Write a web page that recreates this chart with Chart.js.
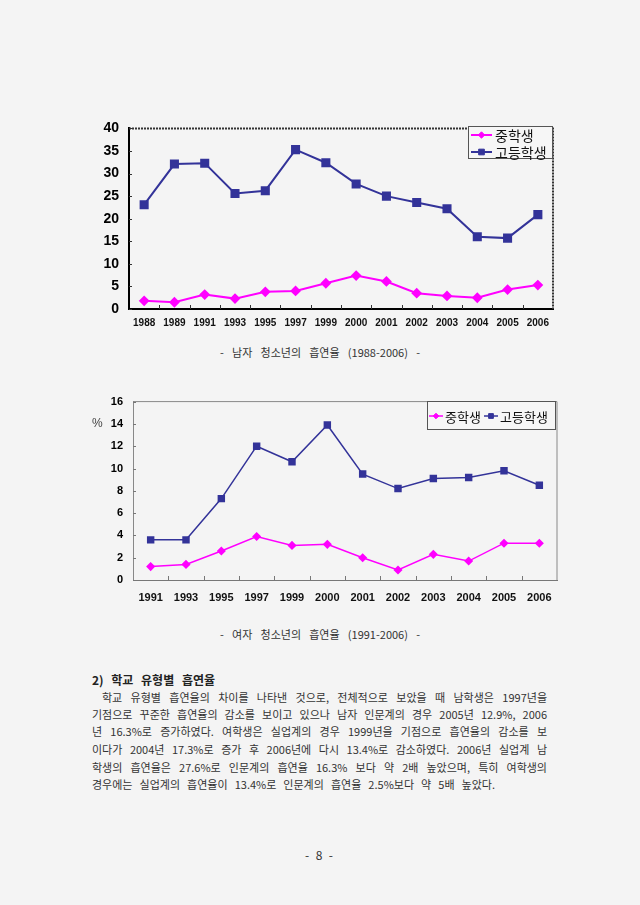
<!DOCTYPE html>
<html>
<head>
<meta charset="utf-8">
<script src="https://cdn.jsdelivr.net/npm/chart.js@4.4.1/dist/chart.umd.min.js"></script>
<style>
  html, body { margin: 0; padding: 0; }
  body { width: 640px; height: 905px; background: #f4f4f4; position: relative; overflow: hidden;
         font-family: "Noto Sans CJK KR", "Noto Sans", sans-serif; color: #333; }
  canvas { position: absolute; }
  .t { position: absolute; white-space: nowrap; font-size: 11px; line-height: 14px; }
  .j { text-align: justify; text-align-last: justify; }
</style>
</head>
<body>
<canvas id="c1" width="470" height="230" style="left:90px;top:110px;"></canvas>
<canvas id="c2" width="490" height="230" style="left:80px;top:385px;"></canvas>

<div class="t j" style="left:220px;top:345px;width:200px;">- 남자 청소년의 흡연율 (1988-2006) -</div>
<div class="t" style="left:92px;top:416px;font-family:'Liberation Sans',Arial,sans-serif;font-size:12px;color:#444;">%</div>
<div class="t j" style="left:220px;top:627px;width:200px;">- 여자 청소년의 흡연율 (1991-2006) -</div>

<div class="t j" style="left:92px;top:673px;width:123px;font-weight:bold;color:#222;font-size:12px;">2) 학교 유형별 흡연율</div>
<div class="t j" style="left:102px;top:690px;width:445px;">학교 유형별 흡연율의 차이를 나타낸 것으로, 전체적으로 보았을 때 남학생은 1997년을</div>
<div class="t j" style="left:92px;top:707px;width:455px;">기점으로 꾸준한 흡연율의 감소를 보이고 있으나 남자 인문계의 경우 2005년 12.9%, 2006</div>
<div class="t j" style="left:92px;top:724px;width:455px;">년 16.3%로 증가하였다. 여학생은 실업계의 경우 1999년을 기점으로 흡연율의 감소를 보</div>
<div class="t j" style="left:92px;top:742px;width:455px;">이다가 2004년 17.3%로 증가 후 2006년에 다시 13.4%로 감소하였다. 2006년 실업계 남</div>
<div class="t j" style="left:92px;top:760px;width:455px;">학생의 흡연율은 27.6%로 인문계의 흡연율 16.3% 보다 약 2배 높았으며, 특히 여학생의</div>
<div class="t j" style="left:92px;top:777px;width:403px;">경우에는 실업계의 흡연율이 13.4%로 인문계의 흡연율 2.5%보다 약 5배 높았다.</div>

<div class="t j" style="left:305px;top:848px;width:28px;font-size:12px;">- 8 -</div>

<script>
// ---- data ----
const seriesNames = ['중학생', '고등학생'];
const years1 = ['1988','1989','1991','1993','1995','1997','1999','2000','2001','2002','2003','2004','2005','2006'];
const middle1 = [1.8, 1.5, 3.2, 2.3, 3.8, 4.0, 5.7, 7.4, 6.1, 3.5, 2.9, 2.5, 4.3, 5.3];
const high1   = [23.1, 32.1, 32.3, 25.6, 26.2, 35.3, 32.4, 27.7, 25.0, 23.6, 22.2, 16.0, 15.7, 20.9];
const years2 = ['1991','1993','1995','1997','1999','2000','2001','2002','2003','2004','2005','2006'];
const middle2 = [1.2, 1.4, 2.6, 3.9, 3.1, 3.2, 2.0, 0.9, 2.3, 1.7, 3.3, 3.3];
const high2   = [3.6, 3.6, 7.3, 12.0, 10.6, 13.9, 9.5, 8.2, 9.1, 9.2, 9.8, 8.5];
const yTicks1 = { min: 0, max: 40, step: 5 };
const yTicks2 = { min: 0, max: 16, step: 2 };

const MAG = '#ff00ff';
const NAVY = '#333399';
const NUMFONT = "'Liberation Sans', Arial, sans-serif";
const KRFONT = "'Noto Sans CJK KR', sans-serif";

// custom plugin: borders, inward ticks, legend box
const framePlugin = {
  id: 'frame',
  beforeDatasetsDraw(chart, args, o) {
    const ctx = chart.ctx, a = chart.chartArea;
    const xs = chart.scales.x, ys = chart.scales.y;
    ctx.save();
    ctx.strokeStyle = o.frameColor; ctx.lineWidth = o.frameWidth;
    ctx.setLineDash(o.frameDash);
    ctx.beginPath();
    ctx.moveTo(a.left, a.top); ctx.lineTo(a.right, a.top); ctx.lineTo(a.right, a.bottom);
    ctx.stroke();
    ctx.setLineDash([]);
    ctx.strokeStyle = o.tickColor; ctx.lineWidth = 1;
    ctx.beginPath();
    ys.ticks.forEach(t => {
      const y = Math.round(ys.getPixelForValue(t.value)) + 0.5;
      ctx.moveTo(a.left, y); ctx.lineTo(a.left + o.tickLen, y);
    });
    const n = chart.data.labels.length;
    for (let i = 0; i < n - 1; i++) {
      const x = Math.round((xs.getPixelForValue(i) + xs.getPixelForValue(i + 1)) / 2) + 0.5;
      ctx.moveTo(x, a.bottom); ctx.lineTo(x, a.bottom - o.tickLen - 1);
    }
    ctx.stroke();
    ctx.restore();
  },
  afterDraw(chart, args, o) {
    const ctx = chart.ctx, L = o.legend;
    ctx.save();
    ctx.fillStyle = o.legendBg;
    ctx.fillRect(L.x, L.y, L.w, L.h);
    ctx.strokeStyle = '#555'; ctx.lineWidth = 1;
    ctx.strokeRect(L.x + 0.5, L.y + 0.5, L.w, L.h);
    ctx.font = L.font;
    ctx.textBaseline = 'middle';
    chart.data.datasets.forEach((ds, i) => {
      const e = L.items[i];
      ctx.strokeStyle = ds.borderColor; ctx.lineWidth = ds.borderWidth;
      ctx.beginPath(); ctx.moveTo(e.x, e.y); ctx.lineTo(e.x + L.lineLen, e.y); ctx.stroke();
      ctx.fillStyle = ds.borderColor; ctx.strokeStyle = ds.borderColor; ctx.lineWidth = 1;
      Chart.helpers.drawPoint(ctx, {
        pointStyle: ds.pointStyle, radius: ds.pointRadius * L.markScale, rotation: 0, borderWidth: 1
      }, e.x + L.lineLen / 2, e.y);
      ctx.fillStyle = '#111';
      ctx.fillText(ds.label, e.x + L.lineLen + L.gap, e.y + 1);
    });
    ctx.restore();
  }
};

function makeChart(id, labels, mid, high, yt, cfg) {
  return new Chart(document.getElementById(id), {
    type: 'line',
    data: {
      labels: labels,
      datasets: [
        { label: seriesNames[0], data: mid, borderColor: MAG, backgroundColor: MAG,
          pointBackgroundColor: MAG, pointBorderColor: MAG, borderWidth: cfg.lw,
          pointStyle: 'rectRot', pointRadius: cfg.diamondR, tension: 0 },
        { label: seriesNames[1], data: high, borderColor: NAVY, backgroundColor: NAVY,
          pointBackgroundColor: NAVY, pointBorderColor: NAVY, borderWidth: cfg.lw,
          pointStyle: 'rect', pointRadius: cfg.squareR, tension: 0 }
      ]
    },
    options: {
      responsive: false, animation: false, devicePixelRatio: 1,
      layout: { padding: cfg.padding },
      plugins: { legend: { display: false }, tooltip: { enabled: false }, frame: cfg.frame },
      scales: {
        x: {
          offset: true,
          grid: { display: false, drawTicks: false },
          border: { display: true, color: cfg.xAxisColor, width: cfg.axisW },
          ticks: { padding: cfg.xPad, color: '#111', maxRotation: 0, autoSkip: false,
                   font: { family: NUMFONT, size: cfg.xFont, weight: 'bold' } },
          afterFit(s) { s.height = cfg.xH; }
        },
        y: {
          min: yt.min, max: yt.max,
          grid: { display: false, drawTicks: false },
          border: { display: true, color: cfg.yAxisColor, width: cfg.axisW },
          ticks: { stepSize: yt.step, padding: 10, color: '#000',
                   font: { family: NUMFONT, size: cfg.yFont, weight: 'bold' } },
          afterFit(s) { s.width = cfg.yW; }
        }
      }
    },
    plugins: [framePlugin]
  });
}

makeChart('c1', years1, middle1, high1, yTicks1, {
  lw: 2, diamondR: 4, squareR: 5,
  padding: { top: 14, right: 7, left: 0, bottom: 0 },
  xH: 31, yW: 39, xPad: 8, xFont: 10, yFont: 14,
  xAxisColor: '#000', yAxisColor: '#000', axisW: 2,
  frame: { frameColor: '#333', frameWidth: 2, frameDash: [2, 1], tickColor: '#333', tickLen: 3,
           legendBg: '#f6f6f6',
           legend: { x: 378, y: 16, w: 84, h: 32, lineLen: 21, gap: 3, markScale: 0.8, font: "14px " + KRFONT,
                     items: [{ x: 381, y: 25 }, { x: 381, y: 42 }] } }
});

makeChart('c2', years2, middle2, high2, yTicks2, {
  lw: 1.5, diamondR: 3.5, squareR: 4.2,
  padding: { top: 12, right: 13, left: 0, bottom: 0 },
  xH: 35, yW: 53, xPad: 11, xFont: 11, yFont: 11,
  xAxisColor: '#777', yAxisColor: '#888', axisW: 1,
  frame: { frameColor: '#888', frameWidth: 1, frameDash: [], tickColor: '#777', tickLen: 3,
           legendBg: '#f6f6f6',
           legend: { x: 347, y: 16, w: 128, h: 28, lineLen: 14, gap: 2, markScale: 0.8, font: "13px " + KRFONT,
                     items: [{ x: 349, y: 31 }, { x: 404, y: 31 }] } }
});
</script>
</body>
</html>
